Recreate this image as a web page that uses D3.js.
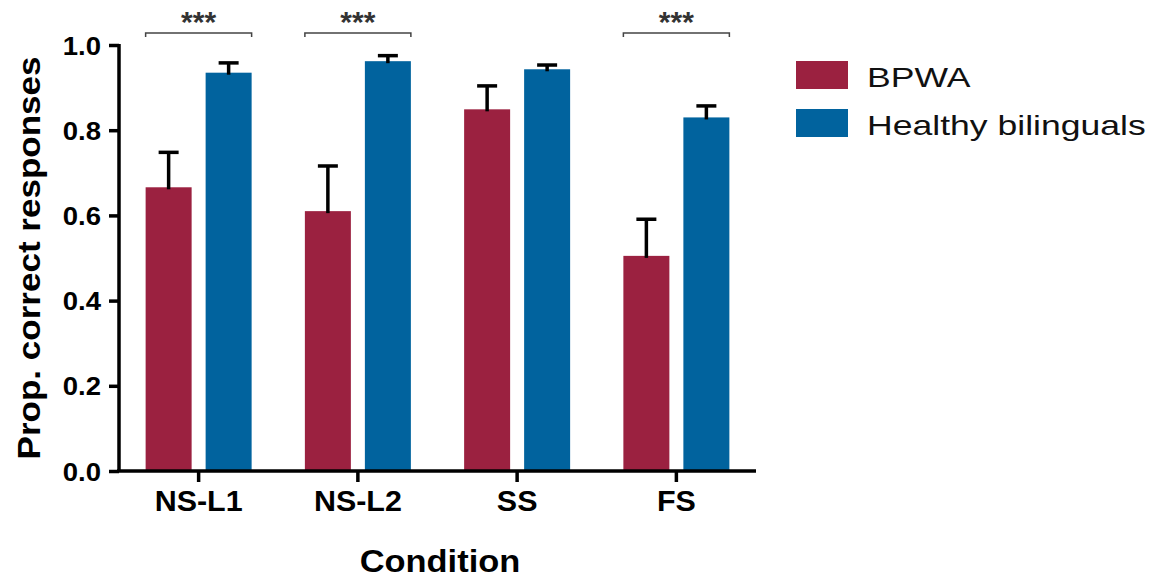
<!DOCTYPE html>
<html>
<head>
<meta charset="utf-8">
<script src="https://cdn.jsdelivr.net/npm/d3@7"></script>
<style>
  body { margin: 0; background: #fff; }
  text { font-family: "Liberation Sans", Arial, sans-serif; }
</style>
</head>
<body>
<div id="chart"></div>
<script>
const conditions = ['NS-L1', 'NS-L2', 'SS', 'FS'];
const groups = ['BPWA', 'Healthy bilinguals'];
const bpwaMean = [0.666, 0.610, 0.849, 0.505];
const bpwaErr = [0.082, 0.106, 0.055, 0.086];
const healthyMean = [0.935, 0.962, 0.943, 0.830];
const healthyErr = [0.023, 0.013, 0.010, 0.027];
const yTicks = [0.0, 0.2, 0.4, 0.6, 0.8, 1.0];
const sigConditions = ['NS-L1', 'NS-L2', 'FS'];

const width = 1162, height = 580;
const colors = { 'BPWA': '#9b2140', 'Healthy bilinguals': '#01639e' };

const svg = d3.select('#chart').append('svg')
  .attr('width', width)
  .attr('height', height);

const x = d3.scaleBand().domain(conditions).range([119, 756]);
const xSub = d3.scaleBand().domain(groups).range([-53, 53]).paddingInner(0.2333);
const y = d3.scaleLinear().domain([0, 1]).range([471, 45]);

// stretch text horizontally, the original figure is wider than tall
function stretch(sel, k) {
  sel.each(function() {
    const len = this.getComputedTextLength();
    d3.select(this).attr('textLength', len * k).attr('lengthAdjust', 'spacingAndGlyphs');
  });
}

const rows = conditions.map((c, i) => [
  { cond: c, group: 'BPWA', mean: bpwaMean[i], err: bpwaErr[i] },
  { cond: c, group: 'Healthy bilinguals', mean: healthyMean[i], err: healthyErr[i] }
]).flat();

const bars = svg.append('g').attr('class', 'bars');
bars.selectAll('rect')
  .data(rows)
  .enter()
  .append('rect')
  .attr('x', d => x(d.cond) + x.bandwidth() / 2 + xSub(d.group))
  .attr('width', xSub.bandwidth())
  .attr('y', d => y(d.mean))
  .attr('height', d => y(0) - y(d.mean))
  .style('fill', d => colors[d.group]);

// error bars, upper half only
const errG = svg.append('g').attr('class', 'errors')
  .attr('stroke', '#000').attr('stroke-width', 3.5);
rows.forEach(d => {
  const cx = x(d.cond) + x.bandwidth() / 2 + xSub(d.group) + xSub.bandwidth() / 2;
  errG.append('line')
    .attr('x1', cx).attr('x2', cx)
    .attr('y1', y(d.mean) + 2).attr('y2', y(d.mean + d.err));
  errG.append('line')
    .attr('x1', cx - 10).attr('x2', cx + 10)
    .attr('y1', y(d.mean + d.err)).attr('y2', y(d.mean + d.err));
});

// axes
const yAxis = svg.append('g')
  .attr('transform', 'translate(119,0)')
  .call(d3.axisLeft(y).tickValues(yTicks).tickFormat(d3.format('.1f')).tickSize(10).tickPadding(8).tickSizeOuter(0));
yAxis.select('.domain').attr('stroke-width', 3.5).attr('d', 'M0,44V471');
yAxis.selectAll('.tick line').attr('stroke-width', 3.5);
yAxis.selectAll('.tick text')
  .attr('font-size', 25).attr('font-weight', 'bold').attr('fill', '#000').attr('dy', '0.36em')
  .call(stretch, 1.1);

const xAxis = svg.append('g')
  .attr('transform', 'translate(0,471)')
  .call(d3.axisBottom(x).tickSize(11).tickPadding(8).tickSizeOuter(0));
xAxis.select('.domain').attr('stroke-width', 3.5).attr('d', 'M117,0H756');
xAxis.selectAll('.tick line').attr('stroke-width', 3.5);
xAxis.selectAll('.tick text')
  .attr('font-size', 29).attr('font-weight', 'bold').attr('fill', '#000').attr('dy', '0.71em')
  .call(stretch, 1.05);

svg.append('text')
  .attr('x', 440).attr('y', 572)
  .attr('text-anchor', 'middle')
  .attr('font-size', 31).attr('font-weight', 'bold')
  .text('Condition')
  .call(stretch, 1.11);

svg.append('text')
  .attr('transform', 'translate(40,258) rotate(-90)')
  .attr('text-anchor', 'middle')
  .attr('font-size', 32).attr('font-weight', 'bold')
  .text('Prop. correct responses')
  .call(sel => sel.attr('textLength', 403).attr('lengthAdjust', 'spacingAndGlyphs'));

// significance brackets
const sig = svg.append('g').attr('class', 'sig');
sigConditions.forEach(c => {
  const x0 = x(c) + x.bandwidth() / 2 + xSub('BPWA');
  const x1 = x(c) + x.bandwidth() / 2 + xSub('Healthy bilinguals') + xSub.bandwidth();
  sig.append('path')
    .attr('d', `M${x0},37V33H${x1}V37`)
    .attr('fill', 'none').attr('stroke', '#444').attr('stroke-width', 1.5);
  sig.append('text')
    .attr('x', (x0 + x1) / 2).attr('y', 32)
    .attr('text-anchor', 'middle')
    .attr('font-size', 30).attr('font-weight', 'bold').attr('fill', '#333')
    .text('***');
});

// legend
const legend = svg.append('g').attr('transform', 'translate(796,61)');
groups.forEach((g, i) => {
  const row = legend.append('g').attr('transform', `translate(0,${i * 48})`);
  row.append('rect').attr('width', 52).attr('height', 28).style('fill', colors[g]);
  row.append('text')
    .attr('x', 71).attr('y', 26)
    .attr('font-size', 28).attr('fill', '#111')
    .text(g)
    .call(stretch, 1.27);
});
</script>
</body>
</html>
